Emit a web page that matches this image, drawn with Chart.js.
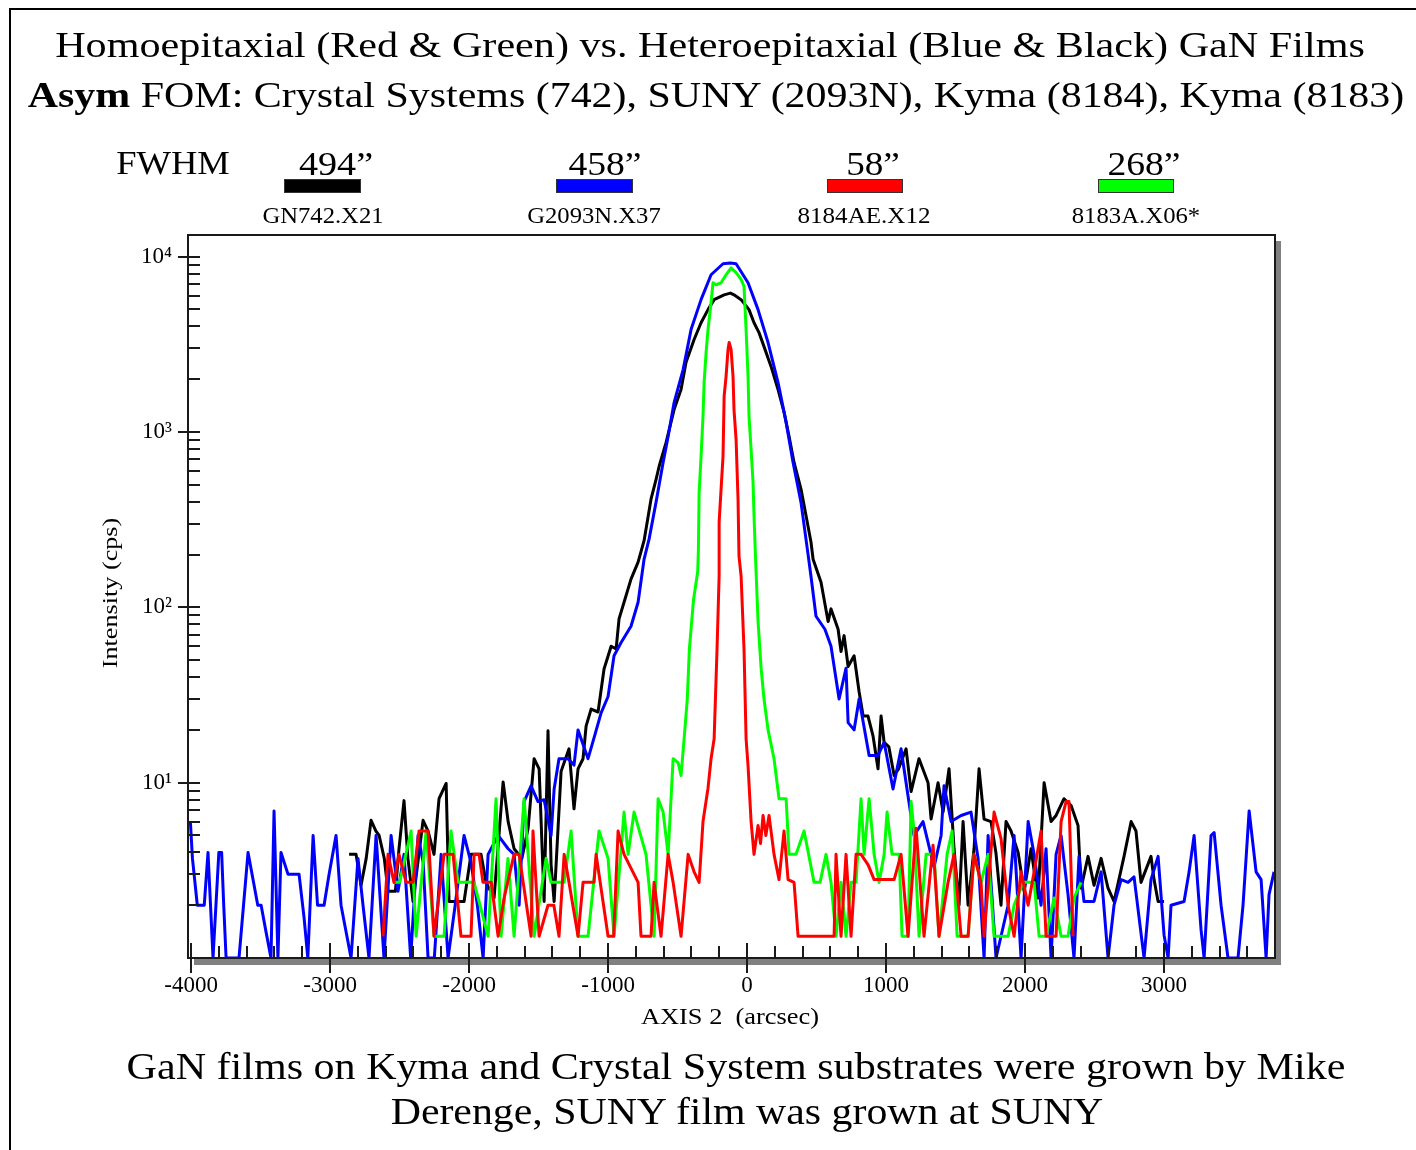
<!DOCTYPE html>
<html>
<head>
<meta charset="utf-8">
<title>GaN rocking curves</title>
<script src="https://cdn.jsdelivr.net/npm/chart.js@4.4.1/dist/chart.umd.min.js"></script>
<style>
  html, body { margin: 0; padding: 0; background: #fff; }
  #page { position: relative; width: 1416px; height: 1150px; overflow: hidden;
          font-family: "Liberation Serif", "Times New Roman", serif; color: #000; }
  #xrc { position: absolute; left: 0; top: 0; }
  #border { position: absolute; left: 9px; top: 8px; width: 1500px; height: 1300px;
            border-left: 2px solid #000; border-top: 2px solid #000; }
  .txt { position: absolute; white-space: nowrap; line-height: 1; left: 0; top: 0; }
  .bar { position: absolute; box-sizing: border-box; border: 1px solid #333; }
</style>
</head>
<body>
<div id="page">
  <canvas id="xrc" width="1416" height="1150"></canvas>
  <div id="border"></div>
  <span class="txt" data-cx="710" data-cy="45" data-w="1310" style="font-size:36px">Homoepitaxial (Red &amp; Green) vs. Heteroepitaxial (Blue &amp; Black) GaN Films</span>
  <span class="txt" data-cx="716" data-cy="95" data-w="1377" style="font-size:36px"><b>Asym</b> FOM: Crystal Systems (742), SUNY (2093N), Kyma (8184), Kyma (8183)</span>
  <span class="txt" data-cx="173" data-cy="163" data-w="114" style="font-size:33px">FWHM</span>
  <span class="txt" data-cx="730" data-cy="1016" data-w="178" style="font-size:23px">AXIS 2&nbsp;&nbsp;(arcsec)</span>
  <span class="txt" data-cx="110" data-cy="593" data-w="150" data-rot="1" style="font-size:22px">Intensity (cps)</span>
  <span class="txt" data-cx="736" data-cy="1066" data-w="1219" style="font-size:38px">GaN films on Kyma and Crystal System substrates were grown by Mike</span>
  <span class="txt" data-cx="747" data-cy="1111" data-w="713" style="font-size:38px">Derenge, SUNY film was grown at SUNY</span>
</div>
<script>
// sample names, FWHM (arcsec) and colours, in legend order
const sampleNames = ['GN742.X21', 'G2093N.X37', '8184AE.X12', '8183A.X06*'];
const fwhmValues = [494, 458, 58, 268];
const seriesColors = ['#000000', '#0000ff', '#ff0000', '#00ff00'];

// axis ticks
const xMajor = [-4000, -3000, -2000, -1000, 0, 1000, 2000, 3000];
const yMajor = [10, 100, 1000, 10000];

// traces, [arcsec, cps]
const blackTrace = [
  [-2863,3.9],[-2813,3.9],[-2777,2.6],[-2740,3.7],[-2705,6.1],[-2670,5.3],[-2647,5],[-2610,3.7],[-2583,2.4],[-2530,2.4],
  [-2504,4.2],[-2468,7.9],[-2440,3.7],[-2403,2.1],[-2331,6.1],[-2295,5.3],[-2252,3.9],[-2216,8.1],[-2165,9.9],[-2144,2.1],
  [-2036,2.1],[-1986,3.9],[-1914,3.9],[-1878,2.7],[-1820,2.2],[-1755,10.1],[-1719,6],[-1676,4.2],[-1620,3.7],[-1575,5.5],
  [-1532,13.7],[-1496,12],[-1460,2.1],[-1432,19.8],[-1410,3.4],[-1388,2.1],[-1338,11.6],[-1281,15.6],[-1245,7.1],[-1216,12],
  [-1180,13.7],[-1158,21],[-1122,26.3],[-1072,25.3],[-1029,44.5],[-978,60],[-942,58],[-921,86],[-885,107],[-835,145],
  [-784,181],[-741,240],[-691,414],[-655,536],[-633,636],[-583,870],[-525,1344],[-475,1748],[-439,2500],[-381,3370],
  [-331,4200],[-281,4990],[-237,5690],[-165,6060],[-120,6200],[-94,6060],[-43,5690],[14,4990],[50,4200],[86,3690],
  [122,3070],[173,2360],[223,1748],[266,1300],[302,944],[338,671],[388,473],[424,334],[460,235],[475,188],
  [532,139],[583,83],[604,98],[655,75],[676,56],[698,69],[727,46],[770,53],[806,33],[835,24],
  [870,24],[906,18.5],[942,12],[964,24],[986,17],[1020,16],[1058,11],[1090,12],[1144,15.6],[1180,8.9],
  [1237,13.7],[1302,10],[1324,6.2],[1374,10],[1410,6.8],[1453,12],[1489,4.2],[1525,2],[1554,6],[1590,2],
  [1633,4.2],[1669,12],[1705,6.2],[1755,6],[1790,4],[1827,2],[1863,6],[1899,5.3],[1950,4],[1993,2.4],
  [2043,4.2],[2093,2.2],[2137,10],[2187,6],[2223,6.5],[2280,8.1],[2331,7.4],[2381,5.7],[2403,2.5],[2453,3.8],
  [2496,2.6],[2547,3.7],[2597,2.5],[2640,2.1],[2712,3.8],[2763,6],[2798,5.3],[2834,2.7],[2906,3.8],[2928,2.8],
  [2957,2.1],[3000,2.1]
];

const blueTrace = [
  [-4005,6],[-3990,3.7],[-3955,2],[-3905,2],[-3878,4],[-3842,1],[-3800,4],[-3780,4],[-3765,2],[-3748,1],
  [-3655,1],[-3590,4],[-3520,2],[-3496,2],[-3460,1.4],[-3425,1],[-3403,6.9],[-3375,1],[-3353,4],[-3302,3],
  [-3223,3],[-3187,1.7],[-3160,1],[-3122,5],[-3090,2],[-3043,2],[-3007,3],[-2957,5],[-2921,2],[-2849,1],
  [-2799,3.7],[-2763,2],[-2720,1],[-2669,5],[-2612,1],[-2561,5],[-2511,2.4],[-2468,3.9],[-2420,1],[-2367,5],
  [-2330,3.5],[-2295,1],[-2250,1],[-2201,3.9],[-2151,1],[-2100,2],[-2036,5],[-1986,3.5],[-1940,2],[-1899,1],
  [-1863,3.9],[-1791,5],[-1719,4.2],[-1676,3.9],[-1640,2],[-1604,7.8],[-1554,9.6],[-1504,7.8],[-1460,8],[-1410,5],
  [-1388,9.2],[-1353,13.7],[-1288,13.7],[-1245,12.6],[-1216,20],[-1144,13.7],[-1101,18],[-1050,25],[-1000,31],[-957,53],
  [-906,63],[-835,78],[-784,107],[-741,188],[-705,245],[-655,397],[-604,671],[-568,944],[-525,1473],[-460,2270],
  [-403,3840],[-331,5690],[-259,7890],[-173,9120],[-120,9200],[-79,9120],[7,7100],[79,4990],[151,3240],[223,1916],
  [281,1135],[331,671],[388,397],[439,200],[460,150],[496,89],[560,75],[604,60],[662,30],[712,45],
  [727,22],[770,20],[806,30],[878,14.3],[942,14.3],[986,17],[1050,9.2],[1108,15.6],[1158,8.4],[1201,5],
  [1266,6],[1345,3.3],[1396,5],[1417,9.6],[1468,6],[1540,6.5],[1611,6.8],[1662,3.7],[1705,1],[1734,5],
  [1755,2.7],[1791,1],[1878,2],[1921,5],[1971,1],[2022,6],[2065,3.9],[2115,2],[2151,4.2],[2187,1],
  [2223,3.9],[2259,5],[2309,2.3],[2352,1],[2388,3.8],[2424,2.1],[2496,2.1],[2547,3.1],[2597,1],[2640,2],
  [2691,2.8],[2741,2.7],[2784,2.9],[2856,1],[2906,2.8],[2957,3.8],[3000,1.35],[3029,1],[3050,2],[3144,2.1],
  [3180,3.1],[3216,5],[3266,1.45],[3288,1],[3338,5],[3360,5.2],[3410,2],[3460,1],[3532,1],[3568,2],
  [3612,6.9],[3662,3.1],[3698,2.8],[3734,1],[3755,2.3],[3791,3.1]
];

const redTrace = [
  [-2619,1.33],[-2583,3.9],[-2540,2.7],[-2504,3.9],[-2453,2.7],[-2403,2.7],[-2360,5.3],[-2295,5.3],[-2252,1.33],[-2180,3.9],
  [-2115,3.9],[-2058,1.33],[-1986,1.33],[-1964,3.9],[-1928,3.9],[-1900,2.7],[-1840,2.7],[-1791,1.33],[-1748,2.2],[-1676,3.9],
  [-1640,3.9],[-1554,1.33],[-1540,5.3],[-1496,1.33],[-1432,2],[-1390,2],[-1353,1.33],[-1316,3.9],[-1281,2.7],[-1216,1.33],
  [-1180,2.7],[-1101,2.7],[-1086,3.9],[-1000,1.33],[-960,1.33],[-928,5.3],[-885,3.9],[-784,2.7],[-763,1.33],[-691,1.33],
  [-669,2.7],[-619,1.33],[-568,3.9],[-532,2.7],[-475,1.33],[-424,3.9],[-381,3.1],[-345,2.7],[-317,6],[-281,9.3],
  [-259,13.7],[-237,17.8],[-216,58],[-201,151],[-201,306],[-173,726],[-165,1600],[-151,2080],[-137,2960],[-129,3240],
  [-115,2960],[-101,2080],[-94,1344],[-79,906],[-65,414],[-58,196],[-43,151],[-22,58],[-7,17.8],[7,12.5],
  [29,6],[50,3.9],[79,5.7],[97,4.5],[115,6.5],[135,5],[158,6.5],[194,3.9],[230,2.8],[266,5.3],
  [295,2.8],[338,2.7],[367,1.33],[626,1.33],[640,3.9],[676,1.33],[712,3.9],[748,1.33],[784,3.9],[820,3.9],
  [871,3.4],[914,2.8],[1058,2.8],[1108,3.9],[1158,1.33],[1216,5.5],[1273,1.33],[1338,4.4],[1381,1.33],[1446,2.7],
  [1489,3.9],[1540,1.33],[1590,1.33],[1633,3.9],[1683,2.7],[1705,1.33],[1777,6.8],[1827,4.8],[1878,2],[1921,1.33],
  [1971,3.1],[2022,2],[2065,3.1],[2115,5.3],[2151,1.33],[2223,1.33],[2259,6],[2295,7.8],[2316,7.8],[2345,1.33]
];

const greenTrace = [
  [-2540,2.7],[-2500,2.7],[-2417,5.3],[-2381,1.33],[-2309,5.3],[-2252,1.33],[-2180,1.33],[-2130,5.3],[-2079,2.7],[-1964,2.7],
  [-1863,1.33],[-1806,8.1],[-1770,1.33],[-1720,3.7],[-1676,1.33],[-1604,8.1],[-1532,1.33],[-1446,3.7],[-1410,2.7],[-1316,2.7],
  [-1266,5.3],[-1216,1.33],[-1144,1.33],[-1065,5.3],[-1000,3.7],[-957,1.33],[-885,6.8],[-856,3.9],[-813,6.8],[-727,3.9],
  [-669,1.33],[-640,8.1],[-604,6.8],[-568,3.9],[-532,13.7],[-496,13],[-475,11],[-453,17.8],[-430,30],[-415,58],
  [-385,111],[-355,160],[-350,215],[-345,450],[-331,726],[-317,1230],[-309,1920],[-295,2830],[-281,3840],[-259,5480],
  [-245,7100],[-223,6920],[-187,7100],[-151,7890],[-115,8650],[-79,8120],[-43,7420],[-22,6770],[-7,3840],[7,2080],
  [14,1230],[29,794],[43,517],[50,333],[60,200],[79,83],[101,45],[122,30],[151,20],[194,13.7],
  [230,8.1],[281,8.1],[302,3.9],[352,3.9],[410,5.3],[482,2.7],[525,2.7],[568,3.9],[604,2.7],[640,1.33],
  [676,2.7],[712,1.33],[748,2.7],[784,2.7],[820,8.1],[842,3.9],[878,8.1],[914,3.9],[950,2.7],[986,3.9],
  [1007,6.8],[1043,3.9],[1094,3.9],[1115,1.33],[1158,1.33],[1180,7.8],[1201,5.3],[1237,1.33],[1288,3.9],[1345,3.9],
  [1381,1.33],[1439,3.9],[1475,5.3],[1511,1.33],[1590,1.33],[1633,3.9],[1683,2.7],[1734,3.9],[1777,1.33],[1878,1.33],
  [1921,2],[1986,2.7],[2065,2.7],[2101,1.33],[2151,1.33],[2209,2.2],[2259,1.33],[2309,1.33],[2352,2.2],[2403,2.7]
];

// ---- legend (FWHM + colour bar + file name) ----
const page = document.getElementById('page');
const legendX = [[323, 284, 361], [600, 556, 633], [868, 827, 903], [1138, 1098, 1174]]; // text centre, bar left, bar right
const fwhmBox = [[336, 74], [605, 73], [873, 54], [1144, 73]];
const nameBox = [[323, 121], [594, 134], [864, 133], [1136, 128]];

sampleNames.forEach((name, i) => {
  const v = document.createElement('span');
  v.className = 'txt';
  v.style.fontSize = '33px';
  v.textContent = fwhmValues[i] + '\u201D';
  v.dataset.cx = fwhmBox[i][0]; v.dataset.cy = 164; v.dataset.w = fwhmBox[i][1];
  page.appendChild(v);

  const b = document.createElement('div');
  b.className = 'bar';
  b.style.left = legendX[i][1] + 'px';
  b.style.width = (legendX[i][2] - legendX[i][1]) + 'px';
  b.style.top = '179px';
  b.style.height = '14px';
  b.style.background = seriesColors[i];
  page.appendChild(b);

  const n = document.createElement('span');
  n.className = 'txt';
  n.style.fontSize = '23px';
  n.textContent = name;
  n.dataset.cx = nameBox[i][0]; n.dataset.cy = 215; n.dataset.w = nameBox[i][1];
  page.appendChild(n);
});

function fitText() {
  document.querySelectorAll('.txt').forEach(el => {
    const k = (+el.dataset.w) / el.offsetWidth;
    el.style.left = el.dataset.cx + 'px';
    el.style.top = el.dataset.cy + 'px';
    const rot = el.dataset.rot ? ' rotate(-90deg)' : '';
    el.style.transform = 'translate(-50%, -50%)' + rot + ' scaleX(' + k.toFixed(4) + ')';
  });
}
fitText();
if (document.fonts) document.fonts.ready.then(fitText);

// ---- frame, shadow and tick marks ----
const framePlugin = {
  id: 'frame',
  beforeDraw(chart) {
    const { ctx, chartArea: a } = chart;
    ctx.save();
    ctx.fillStyle = '#808080';
    ctx.fillRect(a.left + 6, a.top + 6, a.right - a.left, a.bottom - a.top + 1);
    ctx.fillStyle = '#ffffff';
    ctx.fillRect(a.left, a.top, a.right - a.left, a.bottom - a.top);
    ctx.restore();
  },
  afterDatasetsDraw(chart) {
    const { ctx, chartArea: a, scales } = chart;
    const x = scales.x, y = scales.y;
    ctx.save();
    ctx.strokeStyle = '#1a1a1a';
    ctx.lineWidth = 2;
    ctx.beginPath();
    for (let v = -4000; v <= 3800; v += 200) {
      const px = Math.round(x.getPixelForValue(v));
      const major = v % 1000 === 0;
      ctx.moveTo(px, a.bottom - (major ? 15 : 12));
      ctx.lineTo(px, a.bottom + (major ? 15 : 0));
    }
    for (let dec = 1; dec <= 10000; dec *= 10) {
      for (let m = 1; m <= 9; m++) {
        const v = m * dec;
        if (v <= 1 || v > y.max) continue;
        const py = Math.round(y.getPixelForValue(v));
        ctx.moveTo(a.left - (m === 1 ? 10 : 0), py);
        ctx.lineTo(a.left + 12, py);
      }
    }
    ctx.stroke();
    ctx.strokeRect(a.left, a.top, a.right - a.left, a.bottom - a.top);
    ctx.restore();
  }
};

const sup = ['\u2070', '\u00B9', '\u00B2', '\u00B3', '\u2074'];
const tickFont = { family: '"Liberation Serif", "Times New Roman", serif', size: 23 };

function trace(label, pts, color) {
  return {
    label: label,
    data: pts.map(p => ({ x: p[0], y: p[1] })),
    showLine: true,
    borderColor: color,
    backgroundColor: color,
    borderWidth: 3,
    borderJoinStyle: 'round',
    pointRadius: 0,
    tension: 0
  };
}

new Chart(document.getElementById('xrc'), {
  type: 'scatter',
  data: {
    datasets: [
      trace(sampleNames[2], redTrace, seriesColors[2]),
      trace(sampleNames[3], greenTrace, seriesColors[3]),
      trace(sampleNames[1], blueTrace, seriesColors[1]),
      trace(sampleNames[0], blackTrace, seriesColors[0])
    ]
  },
  options: {
    responsive: false,
    animation: false,
    layout: { padding: { left: 88, right: 141, top: 235, bottom: 132 } },
    plugins: { legend: { display: false }, tooltip: { enabled: false } },
    scales: {
      x: {
        type: 'linear',
        min: -4022,
        max: 3798,
        grid: { display: false, drawTicks: false },
        border: { display: false },
        afterBuildTicks: s => { s.ticks = xMajor.map(v => ({ value: v })); },
        afterFit: s => { s.height = 60; },
        ticks: { padding: 14, color: '#000', font: tickFont, maxRotation: 0, autoSkip: false,
                 callback: v => String(v) }
      },
      y: {
        type: 'logarithmic',
        min: 1,
        max: 13300,
        grid: { display: false, drawTicks: false },
        border: { display: false },
        afterBuildTicks: s => { s.ticks = yMajor.map(v => ({ value: v })); },
        afterFit: s => { s.width = 100; },
        ticks: { padding: 16, color: '#000', font: tickFont, autoSkip: false,
                 callback: v => '10' + sup[Math.round(Math.log10(v))] }
      }
    }
  },
  plugins: [framePlugin]
});
</script>
</body>
</html>
